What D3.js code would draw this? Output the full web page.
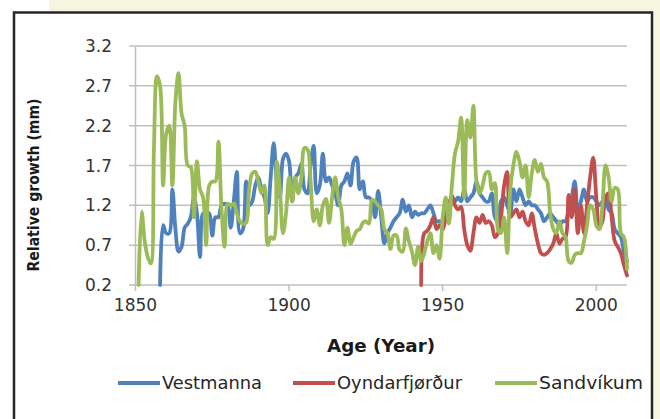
<!DOCTYPE html>
<html><head><meta charset="utf-8">
<script src="https://cdn.jsdelivr.net/npm/d3@7"></script>
<style>body{margin:0;background:#fff}svg{display:block}</style>
</head><body>
<svg id="c" width="660" height="419"></svg>
<script>
const yTicks = [0.2, 0.7, 1.2, 1.7, 2.2, 2.7, 3.2];
const xTicks = [1850, 1900, 1950, 2000];
const seriesNames = ["Vestmanna", "Oyndarfjørður", "Sandvíkum"];
const seriesColors = ["#4f81bd", "#c0504d", "#9bbb59"];

const vestmannaStart = 1858;
const vestmannaValues = [
 0.2,0.95,0.85,0.85,1.4,0.9,0.62,0.68,0.92,0.97,
 1.05,1.3,1.1,0.55,1.1,1.08,1.1,0.82,1.05,1.05,
 1.2,1.22,1.2,0.92,1.25,1.62,0.85,0.9,1.5,1.2,
 1.25,1.45,1.55,1.4,1.3,1.1,1.55,1.98,1.5,1.3,
 1.78,1.85,1.75,1.25,1.55,1.6,1.72,1.4,1.35,1.7,
 1.95,1.35,1.45,1.85,1.5,1.55,1.45,1.35,1.2,1.45,
 1.5,1.6,1.45,1.75,1.8,1.4,1.5,1.3,1.3,1.25,
 1.05,1.38,1.05,0.72,0.85,0.92,1.0,1.05,1.1,1.27,
 1.12,1.2,1.05,1.12,1.08,1.1,1.1,1.15,1.2,1.1,
 1.0,1.0,1.0,1.1,1.2,1.25,1.25,1.3,1.25,1.4,
 1.25,1.3,1.35,1.5,1.35,1.3,1.25,1.25,1.35,1.05,
 1.0,1.25,1.3,1.2,1.1,1.4,1.25,1.4,1.3,1.2,
 1.25,1.2,1.2,1.15,1.1,1.0,1.05,1.1,1.05,1.0,
 0.95,1.0,1.0,1.15,1.3,1.5,1.1,1.25,1.4,1.25,
 1.3,1.3,1.25,1.2,1.25,1.3,1.15,1.1,0.9,0.85,
 0.8,0.62,0.5
];

const oyndarStart = 1943;
const oyndarValues = [
 0.2,0.85,0.88,0.95,1.05,0.9,0.95,0.9,1.05,1.2,
 1.32,1.2,1.15,1.18,0.9,0.7,0.63,0.85,1.05,0.98,
 1.08,0.98,1.0,0.95,0.8,0.85,1.05,1.45,1.62,1.05,
 1.1,1.15,1.05,1.12,1.0,0.95,1.1,0.9,0.72,0.6,
 0.58,0.6,0.65,0.72,0.85,0.72,0.78,0.8,1.33,1.05,
 1.4,0.85,1.2,0.85,1.2,1.55,1.8,1.3,0.92,1.0,
 1.3,1.35,1.05,0.75,0.68,0.6,0.45,0.32
];

const sandvikumStart = 1851;
const sandvikumValues = [
 0.2,1.12,0.75,0.55,0.47,1.9,2.82,2.7,1.45,2.1,
 2.2,1.45,2.5,2.86,2.35,2.2,1.7,1.68,1.05,1.75,
 1.4,1.3,0.7,1.45,1.5,1.5,2.0,1.15,0.68,1.22,
 1.2,1.22,1.1,1.0,0.97,0.98,1.4,1.6,1.62,1.5,
 1.35,1.45,0.7,0.8,0.78,1.75,1.4,0.85,1.1,1.55,
 1.25,1.55,1.35,1.55,1.92,1.9,1.5,1.0,1.15,0.95,
 1.2,1.28,0.98,1.3,1.55,1.3,1.15,0.7,0.92,0.72,
 0.8,0.88,0.9,0.98,1.0,0.97,1.27,1.25,1.2,1.15,
 0.9,0.85,0.65,0.82,0.82,0.64,0.62,0.91,0.75,0.62,
 0.45,0.68,0.5,0.6,0.75,0.85,0.6,0.7,0.53,1.05,
 1.3,0.97,1.45,1.85,2.0,2.3,1.3,2.27,2.05,2.45,
 1.5,1.35,1.45,1.6,1.62,1.4,1.48,0.9,0.85,1.05,
 0.6,1.4,1.7,1.87,1.75,1.55,1.7,1.3,1.6,1.77,
 1.62,1.72,1.55,1.5,1.1,0.9,0.85,1.0,0.85,0.8,
 0.5,0.48,0.58,0.6,0.6,0.75,0.95,1.2,1.15,0.95,
 0.9,1.2,1.7,1.55,1.25,1.42,1.4,0.85,0.8,0.4
];

const series = [
  {start: vestmannaStart, values: vestmannaValues},
  {start: oyndarStart, values: oyndarValues},
  {start: sandvikumStart, values: sandvikumValues}
];

const svg = d3.select("#c");
const FONT = "'DejaVu Sans', sans-serif";

// background and frame
svg.append("rect").attr("x", 49).attr("y", 0).attr("width", 611).attr("height", 419).attr("fill", "#f5f5e0");
svg.append("rect").attr("x", 14).attr("y", 12.5).attr("width", 638).attr("height", 430)
  .attr("fill", "#fff").attr("stroke", "#262626").attr("stroke-width", 2.5);

const x = d3.scaleLinear().domain([1850, 2010]).range([135.5, 627]);
const y = d3.scaleLinear().domain([0.2, 3.2]).range([285, 46]);

// gridlines
svg.append("g").selectAll("line").data(yTicks).join("line")
  .attr("x1", 129).attr("x2", 627)
  .attr("y1", d => y(d)).attr("y2", d => y(d))
  .attr("stroke", "#bfbfbf").attr("stroke-width", 1.5);
// y axis line
svg.append("line").attr("x1", x(1850)).attr("x2", x(1850)).attr("y1", y(3.2)).attr("y2", y(0.2))
  .attr("stroke", "#bfbfbf").attr("stroke-width", 1.5);
// x ticks
svg.append("g").selectAll("line").data(xTicks).join("line")
  .attr("x1", d => x(d)).attr("x2", d => x(d)).attr("y1", 285).attr("y2", 291)
  .attr("stroke", "#bfbfbf").attr("stroke-width", 1.5);

// tick labels
svg.append("g").selectAll("text").data(yTicks).join("text")
  .attr("x", 112).attr("y", d => y(d)).attr("dy", "0.36em")
  .attr("text-anchor", "end").attr("font-family", FONT).attr("font-size", 17).attr("fill", "#333")
  .text(d => d3.format(".1f")(d));
svg.append("g").selectAll("text").data(xTicks).join("text")
  .attr("x", d => x(d)).attr("y", 311)
  .attr("text-anchor", "middle").attr("font-family", FONT).attr("font-size", 17).attr("fill", "#333")
  .text(d => d);

// axis titles
svg.append("text").attr("x", 381).attr("y", 352).attr("text-anchor", "middle")
  .attr("font-family", FONT).attr("font-weight", "bold").attr("font-size", 17).attr("fill", "#1a1a1a")
  .attr("textLength", 108).attr("lengthAdjust", "spacingAndGlyphs")
  .text("Age (Year)");
svg.append("text").attr("transform", "translate(39,185) rotate(-90)").attr("text-anchor", "middle")
  .attr("font-family", FONT).attr("font-weight", "bold").attr("font-size", 15).attr("fill", "#1a1a1a")
  .attr("textLength", 173).attr("lengthAdjust", "spacingAndGlyphs")
  .text("Relative growth (mm)");

// series lines
const line = d3.line()
  .x(d => x(d.year))
  .y(d => y(d.value))
  .curve(d3.curveCatmullRom.alpha(0.5));
series.forEach((s, k) => {
  const pts = s.values.map((v, i) => ({year: s.start + i, value: v}));
  svg.append("path").datum(pts).attr("d", line)
    .attr("fill", "none").attr("stroke", seriesColors[k]).attr("stroke-width", 3.8)
    .attr("stroke-linejoin", "round").attr("stroke-linecap", "round");
});

// legend
const legendX = [118, 293, 495];
const legendW = [100, 125, 104];
const lg = svg.append("g");
seriesNames.forEach((n, k) => {
  lg.append("line").attr("x1", legendX[k]).attr("x2", legendX[k] + 42).attr("y1", 383).attr("y2", 383)
    .attr("stroke", seriesColors[k]).attr("stroke-width", 3.8);
  lg.append("text").attr("x", legendX[k] + 44).attr("y", 389)
    .attr("font-family", FONT).attr("font-size", 17).attr("fill", "#262626")
    .attr("textLength", legendW[k]).attr("lengthAdjust", "spacingAndGlyphs")
    .text(n);
});
</script>
</body></html>
